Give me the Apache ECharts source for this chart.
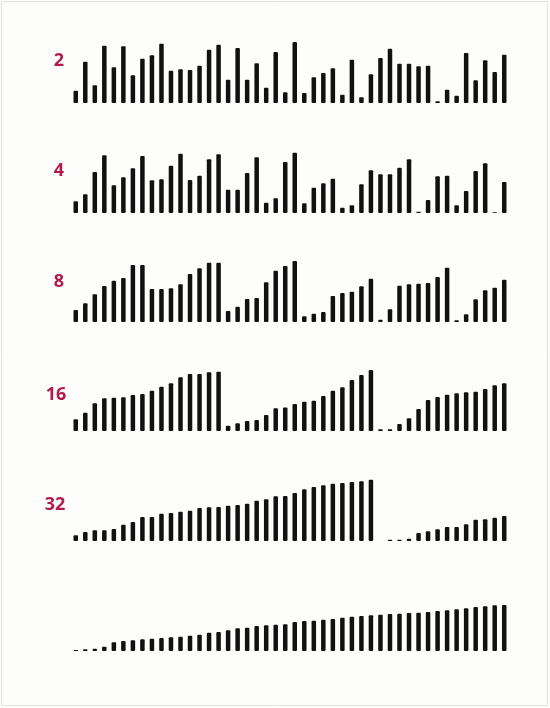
<!DOCTYPE html>
<html>
<head>
<meta charset="utf-8">
<script src="https://cdn.jsdelivr.net/npm/echarts@6/dist/echarts.min.js"></script>
<style>
html,body{margin:0;padding:0;background:#fdfdfb;}
#c{width:550px;height:708px;}
</style>
</head>
<body>
<div id="c"></div>
<script>
// bar positions 1..46
const categories = Array.from({length: 46}, (_, i) => String(i + 1));
// labels for each merge pass (last row = fully sorted, no label)
const passLabels = ['2', '4', '8', '16', '32', ''];

const pass2 = [12.3,41.3,17.7,57.3,35.7,56.7,27.7,44.3,47.7,59.3,32.3,33.7,33,37.3,53.3,58.3,23.3,55,23.3,39.7,15.3,51,10.7,61,10,25.7,30,34.7,8.3,43.3,5.7,28.7,45,54.3,39.3,39.3,36.7,37.3,1.7,13.3,7.3,50,22.7,42.7,31,48.3];
const pass4 = [11.7,18.7,41,57.7,27.7,35.7,44.7,57,32.7,33.7,47.3,59.3,33,37.3,53.7,58.7,23.3,23.3,40,55.7,10.3,14.7,51,60.3,9.7,25.3,29.7,34.3,5.3,7.7,28.7,42.7,38.7,38.7,45.3,53.7,1.3,13,36.7,37.3,7.7,22,42,49.7,0.7,31];
const pass8 = [12,18.7,27.7,36,41.3,44,57,57,33,33,33.7,37.7,48,53.7,59.3,59.3,11,15.3,23,24,39.7,51.3,56,61,5.7,8.3,10,26,29,30.3,35.7,43.3,2.3,12.7,36.3,37.7,38.3,39,45,54.3,1.7,7.7,22.7,31.7,34.3,42.3];
const pass16 = [11.7,18.3,27.7,32.7,33.3,33.7,36,37,40.3,44.3,47.7,53.7,57,57,58.7,59.3,5.3,7.7,10,11,16,22.7,23.5,27,29.3,30.3,35,40.3,43.7,51,56,61,1.7,1.7,7,12.7,22,31,34,36.3,37.7,38.7,39.3,42,45.7,47.7];
const pass32 = [5.7,9,10.7,10.7,12,16.3,19,24,24,27.3,28,29.3,30.3,33,33.7,34,35.3,36,37.3,40.3,41.7,44.7,45,48,51.7,54,55.7,57.3,58,59,59.7,61.3,0,1.3,1.3,2.3,8,9.7,11.7,14,14,16.7,21.3,21.7,23.3,25];
const sorted = [1,1.7,2.3,4.3,8.7,10,10.7,11.7,12.3,13,13.7,14.3,15.3,16.3,18.3,19,20.7,22.7,23.3,25,25.7,26.3,26.7,29,30,30.3,31.3,32,33.3,34.3,35,35.7,36.3,37,37.3,38,38.3,39,40,40.7,41.7,42.7,44,44.7,45.7,46];

const rows = [pass2, pass4, pass8, pass16, pass32, sorted];
const baselines = [103, 213, 322, 431, 541, 651];
const labelY = [61, 171, 282, 395, 505, 0];
const labelX = [59, 59, 59, 56, 55, 0];
const H = 66;

const grid = [], xAxis = [], yAxis = [], series = [];
const graphic = [{
  type: 'rect', shape: {x: 1.5, y: 1.5, width: 546, height: 704},
  style: {fill: null, stroke: '#e2e2e0', lineWidth: 1}, silent: true
}];
rows.forEach((data, i) => {
  grid.push({left: 71, width: 438, top: baselines[i] - H, height: H});
  xAxis.push({type: 'category', gridIndex: i, data: categories, show: false, boundaryGap: true});
  yAxis.push({type: 'value', gridIndex: i, min: 0, max: H, show: false});
  series.push({
    type: 'bar', xAxisIndex: i, yAxisIndex: i, data: data,
    barWidth: 4.5, itemStyle: {color: '#111111', borderRadius: 1},
    silent: true, animation: false
  });
  if (passLabels[i]) {
    graphic.push({
      type: 'text', x: labelX[i], y: labelY[i],
      style: {text: passLabels[i], fill: '#b01c4e', font: 'bold 18px "Open Sans", sans-serif',
              align: 'center', verticalAlign: 'middle'}
    });
  }
});

const chart = echarts.init(document.getElementById('c'), null, {renderer: 'canvas'});
chart.setOption({
  backgroundColor: '#fdfdfb',
  animation: false,
  grid, xAxis, yAxis, series, graphic
});
</script>
</body>
</html>
